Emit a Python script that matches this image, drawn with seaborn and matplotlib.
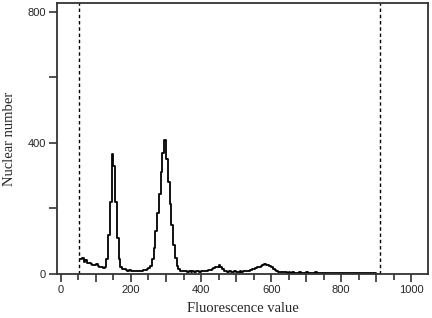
import numpy as np
import matplotlib as mpl
mpl.use('Agg')
import matplotlib.pyplot as plt
from matplotlib.ticker import MultipleLocator, FuncFormatter
import seaborn as sns
import pandas as pd

# nuclear counts per 5-unit fluorescence bin, starting at channel 55
counts = [
    45, 50, 38, 42, 35, 33, 30, 28, 26, 30, 24, 22, 20, 18, 22,          # 55-125
    45, 120, 220, 366, 330, 220, 110, 45, 22,                            # 130-170 (peak 1)
    16, 14, 12, 10, 11, 9, 10, 8, 9, 8, 10, 9, 11, 12, 15, 18,           # 175-250
    25, 45, 80, 130, 185, 245, 310, 370, 409, 350, 280, 215, 150, 90,    # 255-320 (peak 2)
    50, 25, 15, 10,                                                      # 325-340
    9, 8, 9, 7, 8, 6, 8, 7, 9, 8, 7, 9, 8, 10, 9, 11, 13, 15, 17, 20,    # 345-440
    22, 27, 20, 14, 10, 8, 7, 8, 6, 7, 8, 7, 6, 8, 7, 9, 8, 10, 9, 12,   # 445-540
    14, 16, 18, 20, 22, 25, 27, 30, 28, 26, 23, 20, 16, 12, 9, 7,        # 545-620
    6, 5, 6, 5, 4, 5, 4, 5, 4, 3, 4, 5, 4, 3, 4, 5, 3, 4, 3, 4,          # 625-720
    5, 3, 4, 3, 4, 3, 2, 3, 4, 3, 2, 3, 4, 3, 2, 3, 4, 3, 2, 3,          # 725-820
    2, 3, 4, 3, 2, 3, 2, 3, 2, 3, 4, 3, 2, 3, 2, 1, 0,                   # 825-905
]
bin_start = 55
bin_width = 5
channel = bin_start + bin_width * np.arange(len(counts))
gate_lines = [52, 912]

df = pd.DataFrame({'channel': channel, 'count': counts})

sns.set_style('ticks')
plt.rcParams['font.family'] = ['Liberation Sans', 'DejaVu Sans']

fig = plt.figure(figsize=(4.32, 3.18), dpi=100)
ax = fig.add_axes([0.132, 0.1384, 0.859, 0.852])

sns.histplot(data=df, x='channel', weights='count', binwidth=bin_width,
             binrange=(bin_start, bin_start + bin_width * len(counts)),
             element='step', fill=False, color='black', linewidth=1.3, ax=ax)

for g in gate_lines:
    ax.axvline(g, color='black', linestyle=(0, (2.5, 2)), linewidth=1.0)

ax.set_xlim(-11, 1048)
ax.set_ylim(0, 827)

ax.xaxis.set_major_locator(MultipleLocator(100))
ax.xaxis.set_minor_locator(MultipleLocator(50))
ax.xaxis.set_major_formatter(FuncFormatter(lambda v, p: f'{int(v)}' if int(v) % 200 == 0 else ''))
ax.yaxis.set_major_locator(MultipleLocator(200))
ax.yaxis.set_major_formatter(FuncFormatter(lambda v, p: f'{int(v)}' if int(v) % 400 == 0 else ''))

ax.tick_params(axis='both', which='major', length=6, width=1.1, labelsize=8, pad=2, color='#222222')
ax.tick_params(axis='x', which='minor', length=4, width=1.1, color='#222222')

for s in ax.spines.values():
    s.set_linewidth(1.3)
    s.set_color('#333333')

ax.set_xlabel('Fluorescence value', family=['Liberation Serif'], fontsize=10.5, labelpad=5)
ax.set_ylabel('Nuclear number', family=['Liberation Serif'], fontsize=10.5, labelpad=8)

fig.savefig('out.png', dpi=100)
